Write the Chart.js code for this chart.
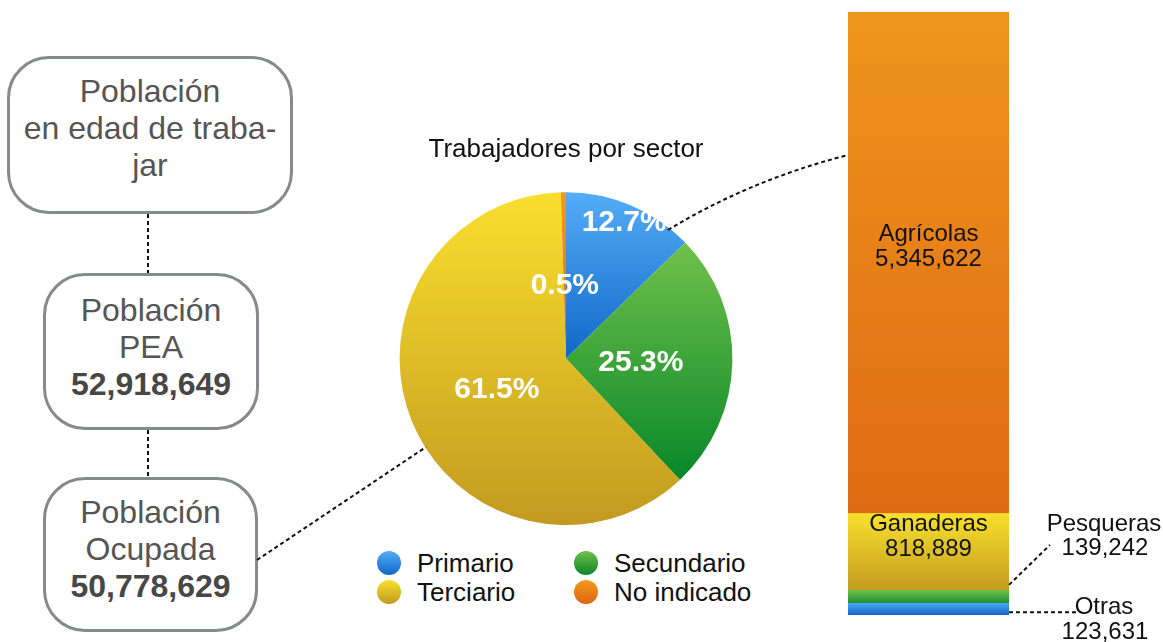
<!DOCTYPE html>
<html lang="es">
<head>
<meta charset="utf-8">
<title>Trabajadores por sector</title>
<script src="https://cdn.jsdelivr.net/npm/chart.js@4.4.1/dist/chart.umd.min.js"></script>
<style>
  html, body { margin: 0; padding: 0; background: #fff; }
  body { width: 1163px; height: 642px; position: relative; overflow: hidden;
         font-family: "Liberation Sans", Arial, sans-serif; }
  .box { position: absolute; box-sizing: border-box; border: 3px solid #87898c; border-radius: 42px;
         display: flex; flex-direction: column; justify-content: center; align-items: center;
         text-align: center; color: #555; font-size: 32px; line-height: 37px; }
  .box b { color: #474747; }
  #pieWrap { position: absolute; left: 380px; top: 128px; width: 372px; height: 397px; }
  #barWrap { position: absolute; left: 848px; top: 0; width: 315px; height: 642px; }
  .leg { position: absolute; height: 30px; line-height: 30px; font-size: 26px; color: #111; white-space: nowrap; }
  .dot { position: absolute; width: 24px; height: 24px; border-radius: 50%; }
  svg { position: absolute; left: 0; top: 0; pointer-events: none; }
</style>
</head>
<body>

<div class="box" id="box1" style="left:7px; top:56px; width:286px; height:158px; padding-bottom:13px;"></div>
<div class="box" id="box2" style="left:43px; top:273px; width:216px; height:157px; padding-bottom:8px;"></div>
<div class="box" id="box3" style="left:43px; top:477px; width:215px; height:155px; padding-bottom:10px;"></div>

<div id="pieWrap"><canvas id="pieChart" width="372" height="397"></canvas></div>
<div id="legend"></div>
<div id="barWrap"><canvas id="barChart" width="315" height="642"></canvas></div>

<svg width="1163" height="642">
  <g fill="none" stroke="#111" stroke-width="2" stroke-dasharray="4 3">
    <line x1="148" y1="214" x2="148" y2="273"/>
    <line x1="148" y1="430" x2="148" y2="477"/>
    <line x1="257" y1="560" x2="426" y2="447"/>
    <path d="M668 230 Q750 180 848 155"/>
  </g>
</svg>

<script>
// Datos
const peaTotal = 52918649;
const occupiedTotal = 50778629;

const sectors = ['Primario', 'Secundario', 'Terciario', 'No indicado'];
const sectorShare = [12.7, 25.3, 61.5, 0.5];

// de abajo hacia arriba en la barra del sector primario
const activities = ['Otras', 'Pesqueras', 'Ganaderas', 'Agrícolas'];
const activityWorkers = [123631, 139242, 818889, 5345622];

// Colores (claro arriba, oscuro abajo)
const sectorColors = [
  ['#55acf7', '#0f68c6'],
  ['#70c14a', '#08872a'],
  ['#f9df2e', '#c29a20'],
  ['#f39a1e', '#dd6412']
];
const activityColors = [
  ['#4aa6f2', '#1466c4'],
  ['#6cc04a', '#1a9030'],
  ['#f8e02c', '#c39c20'],
  ['#ef951c', '#df6a14']
];

const FONT = '"Liberation Sans", Arial, sans-serif';
const fmt = (n) => n.toLocaleString('en-US');

// Cajas de la izquierda
document.getElementById('box1').innerHTML = 'Población<br>en edad de traba-<br>jar';
document.getElementById('box2').innerHTML = 'Población<br>PEA<br><b>' + fmt(peaTotal) + '</b>';
document.getElementById('box3').innerHTML = 'Población<br>Ocupada<br><b>' + fmt(occupiedTotal) + '</b>';

// Leyenda 2x2
const legendCols = [389, 586];
const legendRows = [563, 592];
const legend = document.getElementById('legend');
sectors.forEach((name, i) => {
  const cx = legendCols[i % 2], cy = legendRows[Math.floor(i / 2)];
  const dot = document.createElement('div');
  dot.className = 'dot';
  dot.style.left = (cx - 12) + 'px';
  dot.style.top = (cy - 12) + 'px';
  dot.style.background = 'linear-gradient(' + sectorColors[i][0] + ',' + sectorColors[i][1] + ')';
  legend.appendChild(dot);
  const txt = document.createElement('div');
  txt.className = 'leg';
  txt.style.left = (cx + 28) + 'px';
  txt.style.top = (cy - 15) + 'px';
  txt.textContent = name;
  legend.appendChild(txt);
});

// Degradado vertical por rebanada
function sliceFill(context) {
  const i = context.dataIndex;
  const chart = context.chart;
  const area = chart.chartArea;
  if (!area) return sectorColors[i][0];
  const cx = (area.left + area.right) / 2;
  const cy = (area.top + area.bottom) / 2;
  const r = Math.min(area.right - area.left, area.bottom - area.top) / 2;
  const total = sectorShare.reduce((a, b) => a + b, 0);
  let before = 0;
  for (let j = 0; j < i; j++) before += sectorShare[j];
  const a0 = -Math.PI / 2 + before / total * 2 * Math.PI;
  const a1 = a0 + sectorShare[i] / total * 2 * Math.PI;
  const ys = [cy, cy + r * Math.sin(a0), cy + r * Math.sin(a1)];
  if (a0 < Math.PI / 2 && a1 > Math.PI / 2) ys.push(cy + r);
  if (a1 > 1.5 * Math.PI) ys.push(cy - r);
  const g = chart.ctx.createLinearGradient(0, Math.min(...ys), 0, Math.max(...ys));
  g.addColorStop(0, sectorColors[i][0]);
  g.addColorStop(1, sectorColors[i][1]);
  return g;
}

// distancia de cada etiqueta al centro, como fraccion del radio
const labelRadius = [0.9, 0.45, 0.45, 0.45];

const pieLabels = {
  id: 'pieLabels',
  afterDatasetsDraw(chart) {
    const ctx = chart.ctx;
    const arcs = chart.getDatasetMeta(0).data;
    ctx.save();
    ctx.fillStyle = '#fff';
    ctx.font = 'bold 30px ' + FONT;
    ctx.textAlign = 'center';
    ctx.textBaseline = 'middle';
    arcs.forEach((arc, i) => {
      const a = (arc.startAngle + arc.endAngle) / 2;
      const d = arc.outerRadius * labelRadius[i];
      ctx.fillText(sectorShare[i].toFixed(1) + '%', arc.x + Math.cos(a) * d, arc.y + Math.sin(a) * d + 2);
    });
    ctx.restore();
  }
};

new Chart(document.getElementById('pieChart'), {
  type: 'pie',
  data: {
    labels: sectors,
    datasets: [{
      data: sectorShare,
      backgroundColor: sliceFill,
      borderWidth: 0
    }]
  },
  options: {
    responsive: false,
    animation: false,
    layout: { padding: 0 },
    plugins: {
      legend: { display: false },
      tooltip: { enabled: false },
      title: {
        display: true,
        text: 'Trabajadores por sector',
        color: '#111',
        font: { family: FONT, size: 26, weight: 'normal' },
        padding: { top: 6, bottom: 27 }
      }
    }
  },
  plugins: [pieLabels]
});

// Barra apilada del sector primario
const barTotal = activityWorkers.reduce((a, b) => a + b, 0);

function segmentFill(context) {
  const i = context.datasetIndex;
  const chart = context.chart;
  const y = chart.scales.y;
  if (!y || !chart.chartArea) return activityColors[i][0];
  let below = 0;
  for (let j = 0; j < i; j++) below += activityWorkers[j];
  const top = y.getPixelForValue(below + activityWorkers[i]);
  const bottom = y.getPixelForValue(below);
  const g = chart.ctx.createLinearGradient(0, top, 0, bottom);
  g.addColorStop(0, activityColors[i][0]);
  g.addColorStop(1, activityColors[i][1]);
  return g;
}

// etiquetas fuera de la barra (segmentos delgados)
const outsideLabels = {
  Pesqueras: { textDy: [-72, -48], line: [0, -12, 41, -52] },
  Otras: { textDy: [-2, 23], line: [0, 3, 68, 3] }
};

const barLabels = {
  id: 'barLabels',
  afterDatasetsDraw(chart) {
    const ctx = chart.ctx;
    ctx.save();
    ctx.font = '24px ' + FONT;
    ctx.fillStyle = '#111';
    ctx.strokeStyle = '#111';
    ctx.textAlign = 'center';
    ctx.textBaseline = 'middle';
    activities.forEach((name, i) => {
      const bar = chart.getDatasetMeta(i).data[0];
      const mid = (bar.y + bar.base) / 2;
      const right = bar.x + bar.width / 2;
      const lines = [name, fmt(activityWorkers[i])];
      const out = outsideLabels[name];
      if (!out) {
        ctx.fillText(lines[0], bar.x, mid - 28);
        ctx.fillText(lines[1], bar.x, mid - 3);
      } else {
        ctx.lineWidth = 2;
        ctx.setLineDash([4, 3]);
        ctx.beginPath();
        ctx.moveTo(right + out.line[0], mid + out.line[1]);
        ctx.lineTo(right + out.line[2], mid + out.line[3]);
        ctx.stroke();
        ctx.setLineDash([]);
        ctx.fillText(lines[0], right + 95, mid + out.textDy[0]);
        ctx.fillText(lines[1], right + 96, mid + out.textDy[1]);
      }
    });
    ctx.restore();
  }
};

new Chart(document.getElementById('barChart'), {
  type: 'bar',
  data: {
    labels: [''],
    datasets: activities.map((name, i) => ({
      label: name,
      data: [activityWorkers[i]],
      backgroundColor: segmentFill,
      borderWidth: 0,
      barPercentage: 1,
      categoryPercentage: 1
    }))
  },
  options: {
    responsive: false,
    animation: false,
    layout: { padding: { top: 12, bottom: 27, left: 0, right: 154 } },
    plugins: {
      legend: { display: false },
      tooltip: { enabled: false }
    },
    scales: {
      x: { stacked: true, display: false },
      y: { stacked: true, display: false, min: 0, max: barTotal }
    }
  },
  plugins: [barLabels]
});
</script>
</body>
</html>
